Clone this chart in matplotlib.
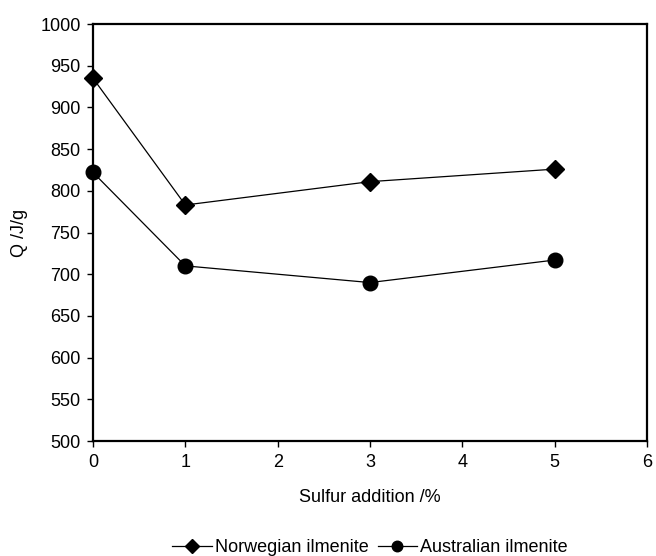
import matplotlib.pyplot as plt

plt.rcParams['font.family'] = ['Liberation Sans', 'DejaVu Sans']

sulfur = [0, 1, 3, 5]
norwegian = [935, 783, 811, 826]
australian = [822, 710, 690, 717]

fig = plt.figure(figsize=(6.56, 5.56), dpi=100)
ax = fig.add_axes([0.1418, 0.2068, 0.8445, 0.75])

ax.plot(sulfur, norwegian, color='black', lw=0.9, marker='D', ms=9.5,
        label='Norwegian ilmenite', clip_on=False, zorder=3)
ax.plot(sulfur, australian, color='black', lw=0.9, marker='o', ms=10.5,
        label='Australian ilmenite', clip_on=False, zorder=3)

ax.set_xlim(0, 6)
ax.set_ylim(500, 1000)
ax.set_xticks(range(0, 7))
ax.set_yticks(range(500, 1001, 50))
ax.tick_params(direction='out', length=4, width=1, labelsize=13, pad=5)
for sp in ax.spines.values():
    sp.set_linewidth(1.6)

ax.set_xlabel('Sulfur addition /%', fontsize=13, labelpad=13)
ax.set_ylabel('Q /J/g', fontsize=13, labelpad=9)

ax.legend(loc='center', bbox_to_anchor=(0.5, -0.255), ncol=2, frameon=False,
          fontsize=13, handlelength=2.2, handletextpad=0.15, columnspacing=0.5,
          markerscale=0.72)

fig.savefig('out.png', dpi=100)
